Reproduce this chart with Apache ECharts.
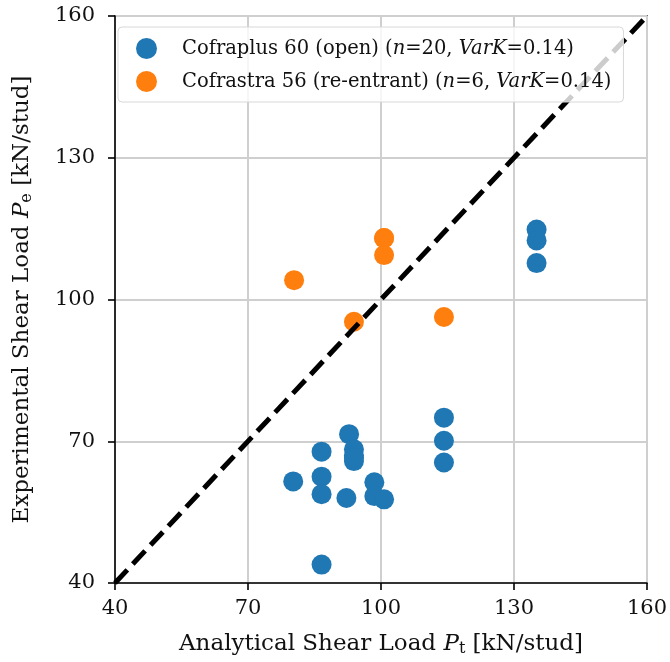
<!DOCTYPE html>
<html>
<head>
<meta charset="utf-8">
<script src="https://cdn.jsdelivr.net/npm/echarts@6/dist/echarts.min.js"></script>
<style>
  html, body { margin: 0; padding: 0; background: #fff; }
  #chart { width: 670px; height: 662px; }
</style>
</head>
<body>
<div id="chart"></div>
<script>
// Analytical vs experimental stud shear resistance
const axisTicks = [40, 70, 100, 130, 160];

// Cofraplus 60 (open profile): [analytical P_t, experimental P_e]
const cofraplusPt = [86.6, 80.2, 86.6, 86.6, 86.6, 92.8, 93.9, 93.9, 93.9, 93.9, 92.2, 98.5, 98.5, 100.7, 114.2, 114.2, 114.2, 135.1, 135.1, 135.1];
const cofraplusPe = [43.9, 61.5, 67.8, 62.5, 58.8, 71.5, 68.3, 67.0, 65.8, 66.5, 58.0, 61.3, 58.4, 57.7, 75.0, 70.1, 65.5, 114.8, 112.5, 107.7];

// Cofrastra 56 (re-entrant profile)
const cofrastraPt = [80.4, 100.7, 100.7, 93.9, 114.2, 100.7];
const cofrastraPe = [104.1, 113.0, 109.4, 95.3, 96.3, 113.0];

// Line of equality
const equalityLine = [40, 160];

const serif = '"DejaVu Serif", serif';
const pairs = (xs, ys) => xs.map((x, i) => [x, ys[i]]);

const chart = echarts.init(document.getElementById('chart'), null, { renderer: 'canvas' });

const titleSize = 23;
const axisCommon = {
  type: 'value',
  min: axisTicks[0],
  max: axisTicks[axisTicks.length - 1],
  interval: axisTicks[1] - axisTicks[0],
  axisLine: { show: true, lineStyle: { color: '#000', width: 1.6 } },
  axisTick: { show: true, length: 7, lineStyle: { color: '#000', width: 1.6 } },
  splitLine: { show: true, lineStyle: { color: '#cfcfcf', width: 2 } },
  axisLabel: { color: '#111', fontFamily: serif, fontSize: 21 },
  nameLocation: 'middle',
  nameTextStyle: {
    color: '#111', fontFamily: serif, fontSize: titleSize,
    rich: {
      n: { fontFamily: serif, fontSize: titleSize, color: '#111' },
      i: { fontFamily: serif, fontSize: titleSize, fontStyle: 'italic', color: '#111' },
      s: { fontFamily: serif, fontSize: 16, color: '#111', verticalAlign: 'bottom', padding: [9, 0, 0, 0] }
    }
  }
};

const legendSize = 19.5;
const legendRich = {
  n: { fontFamily: serif, fontSize: legendSize, color: '#111' },
  i: { fontFamily: serif, fontSize: legendSize, fontStyle: 'italic', color: '#111' }
};

chart.setOption({
  animation: false,
  backgroundColor: '#fff',
  grid: {
    left: 115, right: 23, top: 16, bottom: 78,
    show: true, borderColor: '#000', borderWidth: 1.6, backgroundColor: 'transparent'
  },
  legend: {
    data: ['Cofraplus 60', 'Cofrastra 56'],
    orient: 'vertical',
    left: 118, top: 27,
    padding: [11, 12, 10, 18],
    itemGap: 12,
    itemWidth: 21, itemHeight: 21,
    icon: 'circle',
    backgroundColor: 'rgba(255,255,255,0.8)',
    borderColor: '#d8d8d8', borderWidth: 1, borderRadius: 4,
    textStyle: { fontFamily: serif, fontSize: legendSize, color: '#111', padding: [0, 0, 0, 20], rich: legendRich },
    formatter: name => name === 'Cofraplus 60'
      ? '{n|Cofraplus 60 (open) (}{i|n}{n|=20, }{i|VarK}{n|=0.14)}'
      : '{n|Cofrastra 56 (re-entrant) (}{i|n}{n|=6, }{i|VarK}{n|=0.14)}'
  },
  xAxis: Object.assign({}, axisCommon, {
    name: '{n|Analytical Shear Load }{i|P}{s|t}{n| [kN/stud]}',
    nameGap: 49,
    axisLabel: Object.assign({}, axisCommon.axisLabel, { margin: 15 })
  }),
  yAxis: Object.assign({}, axisCommon, {
    name: '{n|Experimental Shear Load }{i|P}{s|e}{n| [kN/stud]}',
    nameGap: 80,
    axisLabel: Object.assign({}, axisCommon.axisLabel, { margin: 20 })
  }),
  series: [
    {
      name: 'Cofraplus 60', type: 'scatter', symbolSize: 20,
      itemStyle: { color: '#1f77b4', opacity: 1 },
      data: pairs(cofraplusPt, cofraplusPe), z: 2
    },
    {
      name: 'Cofrastra 56', type: 'scatter', symbolSize: 20,
      itemStyle: { color: '#ff7f0e', opacity: 1 },
      data: pairs(cofrastraPt, cofrastraPe), z: 2
    },
    {
      name: 'Equality', type: 'line', symbol: 'none', silent: true,
      lineStyle: { color: '#000', width: 5, type: [18, 8] },
      data: pairs(equalityLine, equalityLine), z: 3
    }
  ]
});
</script>
</body>
</html>
